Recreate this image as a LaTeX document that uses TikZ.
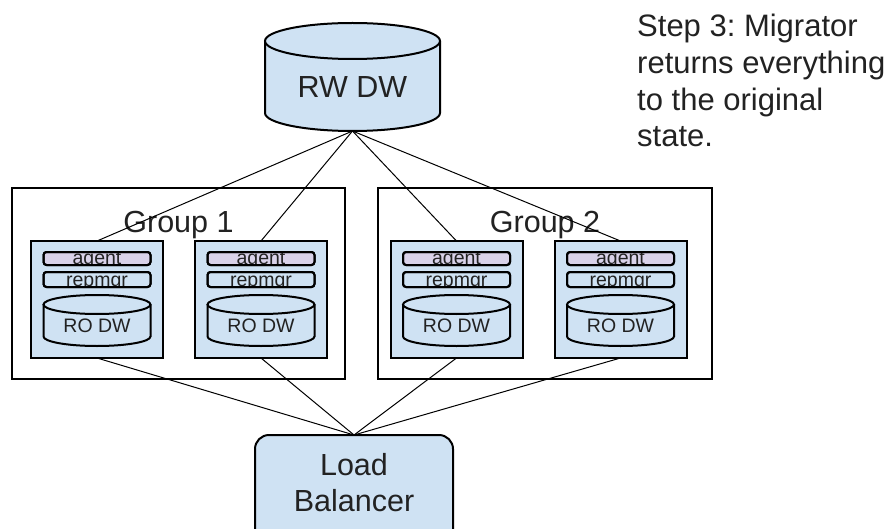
\documentclass[tikz,border=0pt]{standalone}
\usepackage{fontspec}
\setmainfont{Liberation Sans}
\frenchspacing
\definecolor{boxblue}{HTML}{CFE2F3}
\definecolor{agentpurple}{HTML}{D9D2E9}
\definecolor{txt}{HTML}{222222}
\tikzset{
  shapeline/.style={draw=black, line width=2pt},
  link/.style={draw=black, line width=1pt},
  bigtext/.style={font=\fontsize{30.5}{36.5}\selectfont, text=txt, inner sep=0pt},
  steptext/.style={font=\fontsize{31}{36.7}\selectfont, text=txt, inner sep=0pt, align=left},
  midtext/.style={font=\fontsize{19.5}{22}\selectfont, text=txt, inner sep=0pt},
  bartext/.style={font=\fontsize{19.5}{22}\selectfont, text=txt, inner sep=0pt},
  groupbox/.style={shapeline, rectangle, inner sep=0pt, outer sep=0pt},
  replicabox/.style={shapeline, fill=boxblue, rectangle, inner sep=0pt, outer sep=0pt,
    minimum width=132pt, minimum height=117pt},
  barbox/.style={shapeline, rectangle, rounded corners=3pt, inner sep=0pt, outer sep=0pt,
    minimum width=107pt},
  cylbox/.style={rectangle, inner sep=0pt, outer sep=0pt},
  lbbox/.style={shapeline, fill=boxblue, rectangle, rounded corners=14pt, inner sep=0pt,
    outer sep=0pt, minimum width=198pt, minimum height=112pt}
}
% #1 = name, #2 = centre x
\newcommand\replicanode[2]{%
  \node[replicabox] (#1) at (#2,-299.5) {};
  % agent bar
  \node[barbox, fill=agentpurple, minimum height=13pt] (#1-agentbar) at (#2,-258.5) {};
  \begin{scope}
    \clip[rounded corners=3pt] (#1-agentbar.south west) rectangle (#1-agentbar.north east);
    \node[bartext, anchor=base] (#1-agent) at (#2,-264) {agent};
  \end{scope}
  \draw[shapeline, rounded corners=3pt] (#1-agentbar.south west) rectangle (#1-agentbar.north east);
  % repmgr bar
  \node[barbox, fill=boxblue, minimum height=15pt] (#1-repbar) at (#2,-279.5) {};
  \begin{scope}
    \clip[rounded corners=3pt] (#1-repbar.south west) rectangle (#1-repbar.north east);
    \node[bartext, anchor=base] (#1-repmgr) at (#2,-286) {repmgr};
  \end{scope}
  \draw[shapeline, rounded corners=3pt] (#1-repbar.south west) rectangle (#1-repbar.north east);
  % RO DW cylinder
  \node[cylbox, minimum width=107pt, minimum height=51pt] (#1-db) at (#2,-320.5) {};
  \fill[boxblue] (#2-53.5,-304.5) -- (#2-53.5,-336.5)
     arc[start angle=180, end angle=360, x radius=53.5pt, y radius=9.5pt]
     -- (#2+53.5,-304.5) -- cycle;
  \draw[shapeline] (#2-53.5,-304.5) -- (#2-53.5,-336.5)
     arc[start angle=180, end angle=360, x radius=53.5pt, y radius=9.5pt]
     -- (#2+53.5,-304.5);
  \filldraw[shapeline, fill=boxblue] (#2,-304.5) ellipse[x radius=53.5pt, y radius=9.5pt];
  \node[midtext, anchor=base] (#1-dbtext) at (#2,-332) {RO DW};
}
\begin{document}
\begin{tikzpicture}[x=1pt, y=1pt]
  \path[use as bounding box, clip] (0,0) rectangle (890,-529);
  \fill[white] (0,0) rectangle (890,-529);

  % RW DW cylinder
  \node[cylbox, minimum width=175pt, minimum height=108pt] (rw) at (352.5,-77) {};
  \fill[boxblue] (265,-41) -- (265,-113)
     arc[start angle=180, end angle=360, x radius=87.5pt, y radius=18pt]
     -- (440,-41) -- cycle;
  \draw[shapeline] (265,-41) -- (265,-113)
     arc[start angle=180, end angle=360, x radius=87.5pt, y radius=18pt]
     -- (440,-41);
  \filldraw[shapeline, fill=boxblue] (352.5,-41) ellipse[x radius=87.5pt, y radius=18pt];
  \node[bigtext, anchor=base] (rwtext) at (352.5,-98) {RW DW};

  % step text
  \node[steptext, anchor=north west] (step) at (637,-14) {Step 3: Migrator\\returns everything\\to the original\\state.};

  % groups
  \node[groupbox, minimum width=333pt, minimum height=191pt] (g1) at (178.5,-283.5) {};
  \node[groupbox, minimum width=334pt, minimum height=191pt] (g2) at (545,-283.5) {};
  \node[bigtext, anchor=base] (g1label) at (178.5,-233) {Group 1};
  \node[bigtext, anchor=base] (g2label) at (545,-233) {Group 2};

  % load balancer
  \node[lbbox] (lb) at (354,-491) {};
  \node[bigtext, anchor=base] (lbtext1) at (354,-475) {Load};
  \node[bigtext, anchor=base] (lbtext2) at (354,-511) {Balancer};

  % connectors (behind replica boxes)
  \foreach \n/\x in {r1/97, r2/261, r3/456.5, r4/620.5} {
    \coordinate (\n-top) at (\x,-241);
    \coordinate (\n-bot) at (\x,-358);
    \draw[link] (rw.south) -- (\n-top);
    \draw[link] (\n-bot) -- (lb.north);
  }

  % replica nodes
  \replicanode{r1}{97}
  \replicanode{r2}{261}
  \replicanode{r3}{456.5}
  \replicanode{r4}{620.5}
\end{tikzpicture}
\end{document}
